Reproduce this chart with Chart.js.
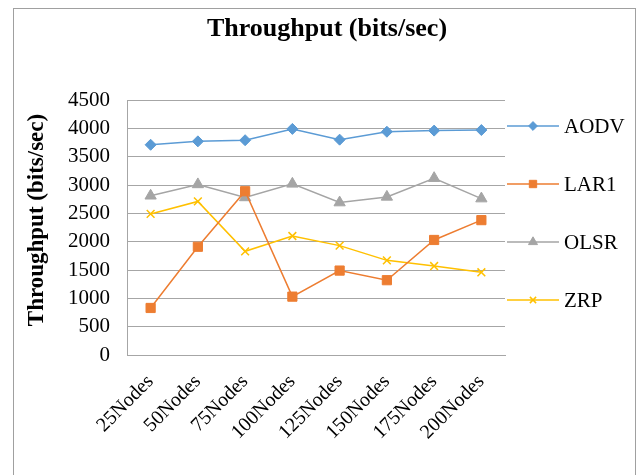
<!DOCTYPE html>
<html>
<head>
<meta charset="utf-8">
<script src="https://cdn.jsdelivr.net/npm/chart.js@4/dist/chart.umd.min.js"></script>
<style>
  html, body { margin: 0; padding: 0; background: #fff; }
  #wrap { width: 637px; height: 475px; position: relative; }
</style>
</head>
<body>
<div id="wrap"><canvas id="c"></canvas></div>
<script>
// Network sizes on the x axis
const categories = ['25Nodes', '50Nodes', '75Nodes', '100Nodes', '125Nodes', '150Nodes', '175Nodes', '200Nodes'];

// Throughput per routing protocol (bits/sec)
const aodv = [3710, 3770, 3790, 3990, 3800, 3940, 3960, 3970];
const lar1 = [830, 1910, 2890, 1030, 1490, 1320, 2030, 2380];
const olsr = [2810, 3010, 2780, 3020, 2690, 2790, 3120, 2760];
const zrp  = [2490, 2710, 1830, 2100, 1930, 1670, 1570, 1460];

const seriesNames = ['AODV', 'LAR1', 'OLSR', 'ZRP'];
const chartTitle = 'Throughput (bits/sec)';
const yTitle = 'Throughput (bits/sec)';

const SERIF = '"Liberation Serif", "Times New Roman", serif';
const GRID = '#a6a6a6';

const styles = [
  { color: '#5b9bd5', point: 'rectRot', radius: 5.5 },
  { color: '#ed7d31', point: 'rect', radius: 6.5 },
  { color: '#a5a5a5', point: 'triangle', radius: 6.5 },
  { color: '#ffc000', point: 'crossRot', radius: 5.5 }
];

const values = [aodv, lar1, olsr, zrp];
const datasets = values.map((v, i) => ({
  label: seriesNames[i],
  data: v,
  borderColor: styles[i].color,
  backgroundColor: styles[i].color,
  borderWidth: 1.5,
  pointStyle: styles[i].point,
  pointRadius: styles[i].radius,
  pointHoverRadius: styles[i].radius,
  pointBorderWidth: styles[i].point === 'crossRot' ? 1.5 : 1,
  tension: 0,
  fill: false
}));

// Outer frame, centred chart title and the rotated y-axis title
const framePlugin = {
  id: 'frame',
  beforeDraw(chart) {
    const ctx = chart.ctx;
    ctx.save();
    ctx.fillStyle = '#fff';
    ctx.fillRect(0, 0, chart.width, chart.height);
    ctx.strokeStyle = '#a0a0a0';
    ctx.lineWidth = 1;
    ctx.strokeRect(13.5, 8.5, 622, chart.height + 10);
    ctx.fillStyle = '#000';
    ctx.font = 'bold 26px ' + SERIF;
    ctx.textAlign = 'center';
    ctx.textBaseline = 'middle';
    ctx.fillText(chartTitle, 327, 29);
    ctx.translate(37, 220);
    ctx.rotate(-Math.PI / 2);
    ctx.font = 'bold 23px ' + SERIF;
    ctx.fillText(yTitle, 0, 0);
    ctx.restore();
  }
};

// Legend on the right: a short line segment with the series marker, then the name
const sideLegend = {
  id: 'sideLegend',
  afterDraw(chart) {
    const ctx = chart.ctx;
    const x0 = chart.chartArea.right + 2;
    const lineLen = 52;
    const top = 126, gap = 58;
    ctx.save();
    chart.data.datasets.forEach((ds, i) => {
      const y = top + i * gap;
      ctx.strokeStyle = ds.borderColor;
      ctx.lineWidth = 1.5;
      ctx.beginPath();
      ctx.moveTo(x0, y);
      ctx.lineTo(x0 + lineLen, y);
      ctx.stroke();
      ctx.fillStyle = ds.backgroundColor;
      ctx.lineWidth = ds.pointBorderWidth;
      Chart.helpers.drawPoint(ctx, { pointStyle: ds.pointStyle, radius: ds.pointRadius * 0.8, borderWidth: ds.pointBorderWidth }, x0 + lineLen / 2, y);
      ctx.fillStyle = '#000';
      ctx.font = '21px ' + SERIF;
      ctx.textBaseline = 'middle';
      ctx.textAlign = 'left';
      ctx.fillText(ds.label, x0 + lineLen + 5, y + 1);
    });
    ctx.restore();
  }
};

new Chart(document.getElementById('c'), {
  type: 'line',
  data: { labels: categories, datasets },
  options: {
    responsive: true,
    maintainAspectRatio: false,
    animation: false,
    layout: { padding: { left: 0, right: 132, top: 100, bottom: 0 } },
    plugins: {
      legend: { display: false },
      tooltip: { enabled: false },
      title: { display: false }
    },
    scales: {
      x: {
        type: 'category',
        offset: true,
        grid: { display: false, drawTicks: false },
        border: { display: true, color: GRID, width: 1 },
        ticks: {
          color: '#000',
          font: { family: SERIF, size: 20 },
          minRotation: 45,
          maxRotation: 45,
          padding: 15,
          autoSkip: false
        },
        afterFit(scale) { scale.height = 120; }
      },
      y: {
        min: 0,
        max: 4500,
        grid: { color: GRID, lineWidth: 1, drawTicks: false },
        border: { display: true, color: GRID, width: 1 },
        ticks: {
          stepSize: 500,
          color: '#000',
          font: { family: SERIF, size: 21 },
          padding: 17,
          callback: (v) => String(v)
        },
        afterFit(scale) { scale.width = 127; }
      }
    }
  },
  plugins: [framePlugin, sideLegend]
});
</script>
</body>
</html>
